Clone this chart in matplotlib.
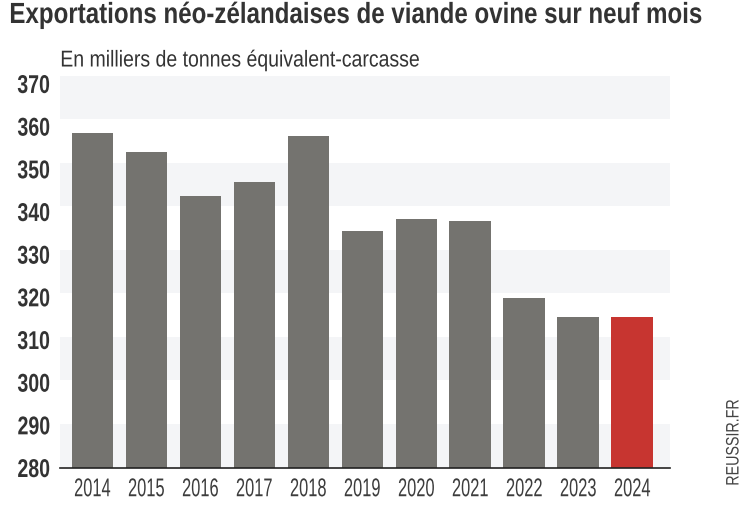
import matplotlib
matplotlib.use('Agg')
import matplotlib.pyplot as plt
from matplotlib.patheffects import AbstractPathEffect
from matplotlib.transforms import Affine2D

years = ['2014', '2015', '2016', '2017', '2018', '2019', '2020', '2021', '2022', '2023', '2024']
values = [356.8, 352.5, 342.5, 345.6, 356.3, 334.4, 337.1, 336.7, 319.0, 314.7, 314.7]
band_edges = [(360, 370), (340, 350), (320, 330), (300, 310), (280, 290)]
y_ticks = [280, 290, 300, 310, 320, 330, 340, 350, 360, 370]

title = 'Exportations néo-zélandaises de viande ovine sur neuf mois'
subtitle = 'En milliers de tonnes équivalent-carcasse'


class Narrow(AbstractPathEffect):
    # no condensed font installed, so squeeze the glyphs horizontally
    def __init__(self, sx, anchor=0.0):
        super().__init__()
        self.sx = sx
        self.anchor = anchor

    def draw_path(self, renderer, gc, tpath, affine, rgbFace=None):
        ext = tpath.get_extents()
        x0 = ext.x0 + self.anchor * ext.width
        squeeze = Affine2D().translate(-x0, 0).scale(self.sx, 1).translate(x0, 0)
        renderer.draw_path(gc, tpath, squeeze + affine, rgbFace)


plt.rcParams['font.family'] = ['Liberation Sans', 'DejaVu Sans']

W, H = 747, 513
fig = plt.figure(figsize=(W / 100, H / 100), dpi=100)
ax = fig.add_axes([60 / W, 1 - 467.5 / H, 610 / W, 391.5 / H])

# alternating background bands
for low, high in band_edges:
    ax.axhspan(low, high, color='#f4f5f7', lw=0, zorder=0)

colors = ['#74736f'] * 10 + ['#c73530']
ax.bar(range(len(years)), values, width=0.77, color=colors, zorder=2)

ax.set_xlim(-0.6, 10.7)
ax.set_ylim(280, 370)
ax.set_xticks(range(len(years)))
ax.set_xticklabels(years, fontsize=18.5, color='#3c3c3c')
# the y labels sit slightly tighter than the bands in the original
ax.set_yticks([280 + (t - 280) * 0.981 for t in y_ticks])
ax.set_yticklabels(y_ticks, fontsize=18.5, color='#333333', fontweight='bold')
ax.tick_params(axis='both', length=0)
ax.tick_params(axis='x', pad=7)
ax.tick_params(axis='y', pad=7)
for lab in ax.get_xticklabels():
    lab.set_path_effects([Narrow(0.64, 0.5)])
for lab in ax.get_yticklabels():
    lab.set_path_effects([Narrow(0.76, 1.0)])

for side in ['top', 'right', 'left']:
    ax.spines[side].set_visible(False)
ax.spines['bottom'].set_color('#222222')
ax.spines['bottom'].set_linewidth(1.2)
ax.spines['bottom'].set_zorder(3)

fig.text(9 / W, 1 - 15 / H, title, fontsize=21, fontweight='bold', color='#333333', va='center',
         path_effects=[Narrow(0.827)])
fig.text(60 / W, 1 - 60 / H, subtitle, fontsize=16.5, color='#333333', va='center',
         path_effects=[Narrow(0.85)])
fig.text(734 / W, 1 - 486 / H, 'REUSSIR.FR', fontsize=13, color='#444444', rotation=90,
         ha='center', va='bottom', path_effects=[Narrow(0.79)])

plt.savefig('out.png', dpi=100)
